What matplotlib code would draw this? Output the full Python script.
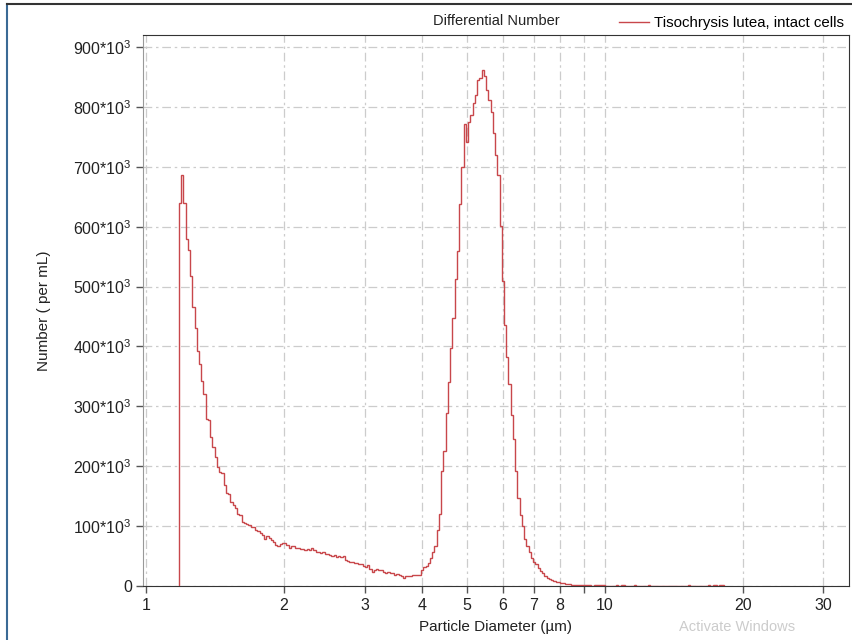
import numpy as np
import matplotlib
matplotlib.use("Agg")
import matplotlib.pyplot as plt
from matplotlib.lines import Line2D

plt.rcParams['font.family'] = ['Liberation Sans', 'DejaVu Sans']
plt.rcParams['mathtext.default'] = 'regular'

# differential number per bin, in thousands per mL (log-spaced bins from ~1.18 um)
counts_k = [
    640, 687, 640, 579, 561, 518, 466, 430, 393, 371,
    343, 321, 279, 277, 249, 232, 216, 199, 190, 188,
    168, 155, 153, 140, 135, 130, 121, 118, 107, 106,
    104, 102, 99, 98, 93, 92, 88, 85, 78, 84,
    80, 77, 74, 68, 67, 70, 72, 71, 68, 63,
    67, 66, 64, 63, 62, 61, 60, 61, 60, 63,
    60, 56, 56, 55, 57, 53, 54, 51, 50, 51,
    48, 50, 48, 50, 43, 42, 40, 40, 39, 38,
    37, 36, 33, 32, 35, 29, 24, 27, 28, 26,
    27, 24, 22, 23, 21, 21, 18, 20, 18, 17,
    14, 16, 17, 16, 18, 18, 18, 19, 27, 32,
    33, 39, 47, 56, 67, 93, 121, 192, 226, 289,
    340, 398, 448, 513, 559, 638, 700, 772, 742, 774,
    786, 806, 820, 845, 848, 862, 851, 828, 811, 791,
    757, 720, 686, 601, 510, 436, 383, 337, 286, 246,
    192, 147, 118, 101, 79, 67, 56, 47, 40, 36,
    30, 25, 21, 17, 14, 12, 10, 8.5, 7, 6,
    5, 4.5, 4, 3.5, 3, 2.5, 2.5, 2, 2, 1.5,
    1.5, 1.2, 1, 1, 0.5, 1.5, 1.5, 1, 1.5, 1.5,
    0, 0, 0, 0, 0, 1.5, 0, 1.5, 1.5, 0,
    0, 0, 0, 1, 0, 0, 0, 0, 0, 1,
    0, 0, 0, 0, 0, 0, 0, 0, 0, 0,
    0, 0, 0, 0, 0, 0, 0, 1, 0, 0,
    0, 0, 0, 0, 0, 0, 1.5, 0, 1.5, 1.5,
    0, 1.5, 1,
]

x_ticks = [1, 2, 3, 4, 5, 6, 7, 8, 9, 10, 20, 30]
x_labels = ['1', '2', '3', '4', '5', '6', '7', '8', '', '10', '20', '30']
y_ticks = np.arange(0, 900001, 100000)

series_name = 'Tisochrysis lutea, intact cells'

counts = np.array(counts_k) * 1000
first_edge = 1.179
log_step = 0.00489
edges = 10 ** (np.log10(first_edge) + log_step * np.arange(len(counts) + 1))

fig = plt.figure(figsize=(8.53, 6.4), dpi=100)
ax = fig.add_axes([143 / 853, 54 / 640, 706 / 853, 551 / 640])

ax.stairs(counts, edges, baseline=0, color='#c8474b', lw=1.0, label=series_name, zorder=3)

ax.set_xscale('log')
ax.set_xlim(0.985, 34.1)
ax.set_ylim(0, 920000)

ax.set_xticks(x_ticks)
ax.set_xticklabels(x_labels)
ax.xaxis.set_minor_locator(matplotlib.ticker.NullLocator())
ax.set_yticks(y_ticks)
ax.set_yticklabels(['0'] + [f'{int(v / 1000)}*10$^3$' for v in y_ticks[1:]])

ax.tick_params(axis='both', direction='out', length=5, width=1, color='#555555',
               labelsize=11.5, labelcolor='#222222')
ax.tick_params(axis='x', pad=4)
ax.tick_params(axis='y', pad=3)

ax.grid(True, which='major', color='#cccccc', lw=0.9, linestyle=(0, (7, 3, 2, 3)))
ax.set_axisbelow(True)

for side in ['top', 'right', 'bottom']:
    ax.spines[side].set_color('#333333')
ax.spines['left'].set_color('#999999')

ax.set_xlabel('Particle Diameter (µm)', fontsize=11, labelpad=5, color='#222222')
ax.set_ylabel('Number ( per mL)', fontsize=11, labelpad=16, color='#222222')
ax.set_title('Differential Number', fontsize=10.5, pad=7, color='#222222')

ax.legend(loc='lower right', bbox_to_anchor=(1.0, 1.0), frameon=False, fontsize=10.8,
          handlelength=2.0, handletextpad=0.35, borderaxespad=0.1, borderpad=0.2)

# screenshot frame
fig.add_artist(Line2D([7 / 853, 7 / 853], [0, 636 / 640], color='#3a6a95', lw=1.5))
fig.add_artist(Line2D([7 / 853, 1], [636 / 640, 636 / 640], color='#333333', lw=1.5))

fig.text(679 / 853, 13 / 640, 'Activate Windows', fontsize=10.5, color='#cccccc', va='center')

fig.savefig('out.png', dpi=100)
